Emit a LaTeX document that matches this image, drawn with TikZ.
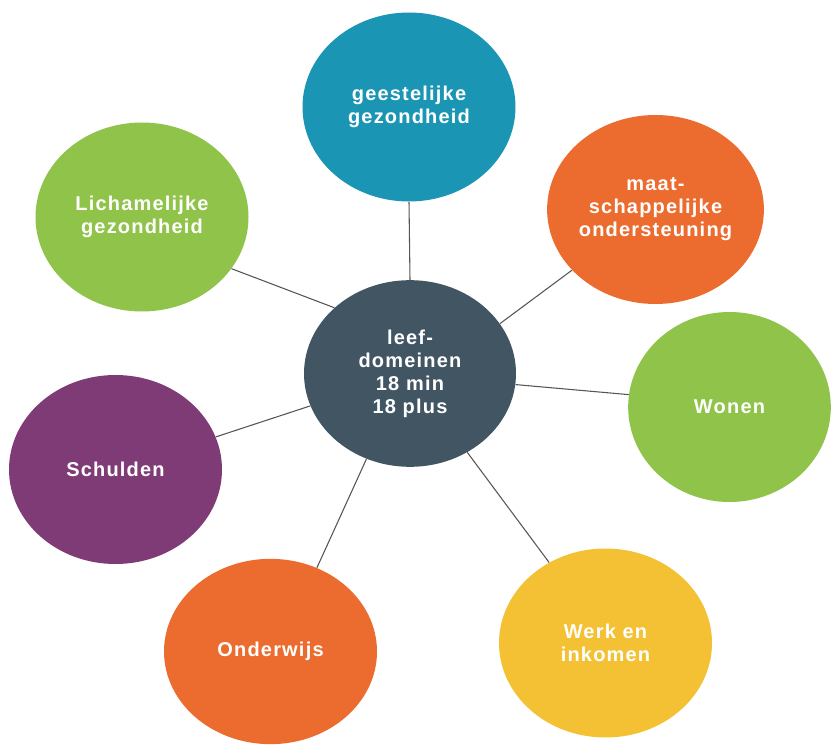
\documentclass[tikz,border=0pt]{standalone}
\usepackage{fontspec}
\setmainfont{Liberation Sans}[LetterSpace=6]
\usetikzlibrary{shapes.geometric}
\definecolor{cteal}{HTML}{1B95B4}
\definecolor{corange}{HTML}{EC6C30}
\definecolor{cgreen}{HTML}{8FC34A}
\definecolor{cpurple}{HTML}{7E3B76}
\definecolor{cyellow}{HTML}{F3C133}
\definecolor{cslate}{HTML}{425563}
\definecolor{cline}{HTML}{555555}
\tikzset{
  bubble/.style={ellipse, inner sep=0pt, minimum width=159.75pt, minimum height=141.75pt,
    text=white, align=center, font=\fontsize{15pt}{17.25pt}\selectfont\bfseries},
  link/.style={draw=cline, line width=0.8pt}
}
\begin{document}
\begin{tikzpicture}[x=0.75pt, y=-0.75pt]
\useasboundingbox (0,0) rectangle (832,745);
\node[bubble, fill=cslate, minimum width=159pt, minimum height=140pt] (c) at (410,373.5) {leef-\\domeinen\\18 min\\18 plus};
\node[bubble, fill=cteal] (g) at (409,107) {geestelijke\\gezondheid};
\node[bubble, fill=corange] (m) at (655.5,209.5) {maat-\\schappelijke\\ondersteuning};
\node[bubble, fill=cgreen] (l) at (142,217) {Lichamelijke\\gezondheid};
\node[bubble, fill=cgreen, minimum width=152pt, minimum height=142.5pt] (w) at (729.5,407) {Wonen};
\node[bubble, fill=cpurple] (s) at (115.5,469.5) {Schulden};
\node[bubble, fill=corange, minimum height=139pt] (o) at (270.5,651.5) {Onderwijs};
\node[bubble, fill=cyellow] (k) at (605.5,643) {Werk en\\inkomen};
\draw[link] (c.90) -- (g.270);
\draw[link] (c.29.2) -- (m.216.3);
\draw[link] (c.139.6) -- (l.330);
\draw[link] (c.354.9) -- (w.173.3);
\draw[link] (c.198.5) -- (s.18.3);
\draw[link] (c.243.8) -- (o.61.7);
\draw[link] (c.306.6) -- (k.125.9);
\end{tikzpicture}
\end{document}
